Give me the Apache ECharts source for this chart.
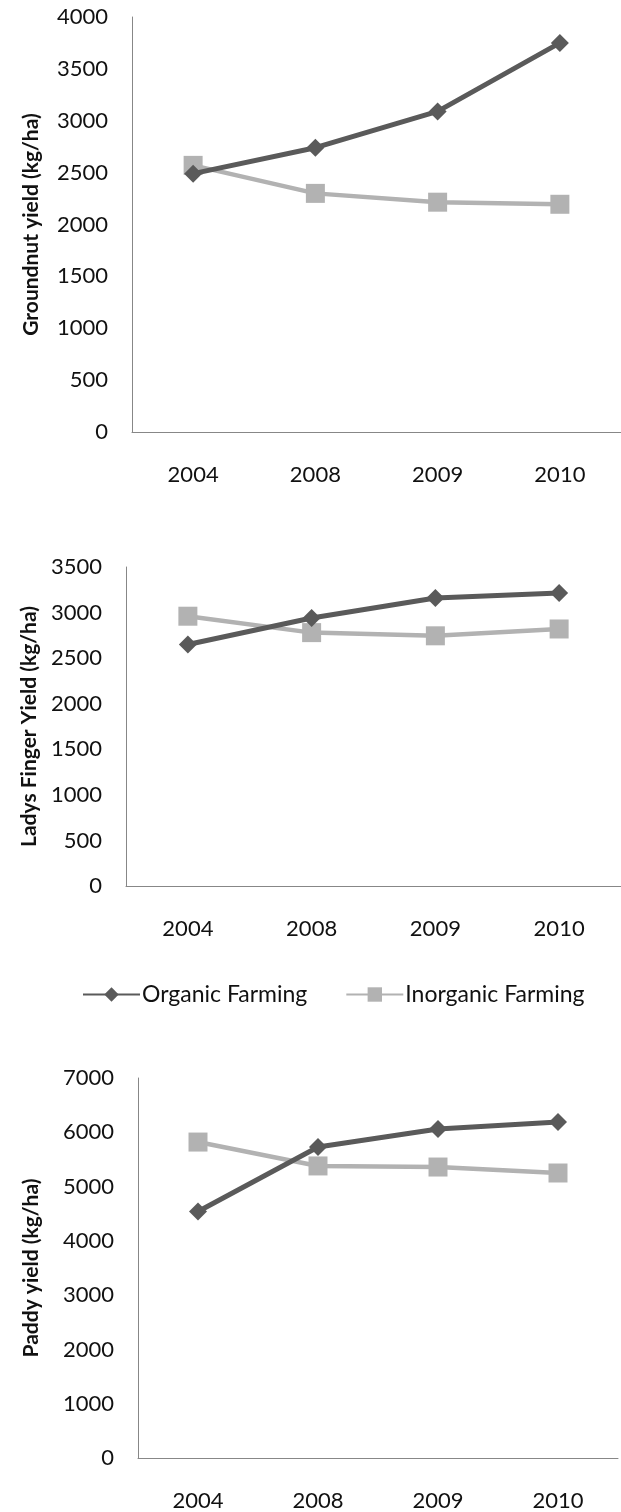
<!DOCTYPE html>
<html><head><meta charset="utf-8">
<script src="https://cdn.jsdelivr.net/npm/echarts@6/dist/echarts.min.js"></script>
<style>html,body{margin:0;padding:0;background:#fff}#c{width:621px;height:1512px}</style>
</head><body><div id="c"></div>
<script>
const years = ['2004', '2008', '2009', '2010'];
const groundnutOrganic = [2490, 2740, 3090, 3750];
const groundnutInorganic = [2570, 2300, 2215, 2195];
const ladysOrganic = [2650, 2940, 3160, 3215];
const ladysInorganic = [2960, 2780, 2745, 2820];
const paddyOrganic = [4540, 5730, 6060, 6190];
const paddyInorganic = [5820, 5380, 5360, 5250];
const seriesNames = ['Organic Farming', 'Inorganic Farming'];
const yTitles = ['Groundnut yield (kg/ha)', 'Ladys Finger Yield (kg/ha)', 'Paddy yield (kg/ha)'];

const FONT = 'Lato';
const DARK = '#5a5a5a', LIGHT = '#b2b2b2', AXIS = '#878787';
const grids = [
  {left: 132, top: 17, width: 492, height: 415},
  {left: 126, top: 567, width: 520, height: 319},
  {left: 138, top: 1078, width: 480, height: 380}
];
const yCfg = [
  {max: 4000, interval: 500, gap: 90},
  {max: 3500, interval: 500, gap: 86},
  {max: 7000, interval: 1000, gap: 96}
];
const xAxis = grids.map((g, i) => ({
  type: 'category', gridIndex: i, data: years, boundaryGap: true,
  axisLine: {lineStyle: {color: AXIS, width: 1}},
  axisTick: {show: false},
  axisLabel: {color: '#111', fontFamily: FONT, fontSize: 22, margin: 32}
}));
const yAxis = yCfg.map((c, i) => ({
  type: 'value', gridIndex: i, min: 0, max: c.max, interval: c.interval,
  axisLine: {show: true, lineStyle: {color: AXIS, width: 1}},
  axisTick: {show: false}, splitLine: {show: false},
  axisLabel: {color: '#111', fontFamily: FONT, fontSize: 22, margin: 24, formatter: v => String(v)},
  name: yTitles[i], nameLocation: 'middle', nameGap: c.gap, nameRotate: 90,
  nameTextStyle: {color: '#111', fontFamily: FONT, fontWeight: 'bold', fontSize: 21}
}));
const pairs = [[groundnutOrganic, groundnutInorganic], [ladysOrganic, ladysInorganic], [paddyOrganic, paddyInorganic]];
const series = [];
pairs.forEach((p, i) => {
  series.push({name: seriesNames[0], type: 'line', xAxisIndex: i, yAxisIndex: i, data: p[0],
    symbol: 'diamond', symbolSize: 18, lineStyle: {color: DARK, width: 5}, itemStyle: {color: DARK}, z: 3});
  series.push({name: seriesNames[1], type: 'line', xAxisIndex: i, yAxisIndex: i, data: p[1],
    symbol: 'rect', symbolSize: 19, lineStyle: {color: LIGHT, width: 4.5}, itemStyle: {color: LIGHT}, z: 2});
});
const chart = echarts.init(document.getElementById('c'), null, {renderer: 'canvas'});
chart.setOption({
  animation: false,
  backgroundColor: '#fff',
  grid: grids,
  xAxis, yAxis, series,
  legend: {data: seriesNames, left: 77, top: 978, itemWidth: 57, itemHeight: 18, itemGap: 38,
    textStyle: {color: '#111', fontFamily: FONT, fontSize: 23, padding: [0, 0, 0, -3]}}
});
</script></body></html>
